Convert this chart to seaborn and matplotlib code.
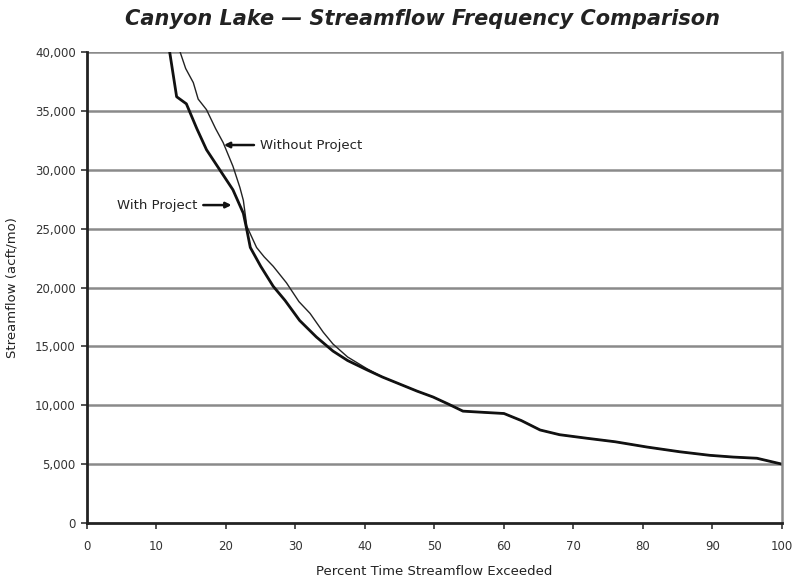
import numpy as np
import pandas as pd
import matplotlib
matplotlib.use("Agg")
import matplotlib.pyplot as plt
import matplotlib.ticker as mticker
import seaborn as sns

# flow duration curves (percent exceeded, acft/mo)
with_pct = [11.9, 12.9, 14.3, 15.8, 17.2, 19.1, 21.0, 22.5, 23.0, 23.5, 25.0, 26.8,
            28.5, 30.6, 33.0, 35.4, 37.5, 40.3, 42.5, 45.0, 47.5, 49.8, 52.0, 54.1,
            57.0, 60.0, 62.5, 65.2, 68.0, 71.9, 76.0, 80.6, 85.3, 89.6, 93.0, 96.4, 100.0]
with_flow = [40000, 36200, 35600, 33500, 31700, 30000, 28300, 26300, 24900, 23400, 21800, 20100,
             18900, 17200, 15800, 14600, 13800, 13000, 12400, 11800, 11200, 10700, 10100, 9500,
             9400, 9300, 8700, 7900, 7500, 7200, 6900, 6450, 6050, 5750, 5600, 5500, 5000]

without_pct = [13.4, 14.2, 15.3, 16.0, 17.2, 18.5, 19.6, 21.0, 22.0, 22.5, 23.0, 24.4,
               25.5, 26.8, 28.7, 30.5, 32.1, 34.0, 35.4, 37.5, 40.3]
without_flow = [40000, 38600, 37400, 36000, 35100, 33500, 32300, 30300, 28500, 27400, 25200, 23400,
                22600, 21800, 20400, 18800, 17800, 16200, 15200, 14100, 13100]
# beyond ~40% both curves coincide
without_pct = without_pct + with_pct[18:]
without_flow = without_flow + with_flow[18:]

x_ticks = list(range(0, 101, 10))
y_ticks = list(range(0, 40001, 5000))

sns.set_style("white")
plt.rcParams["font.family"] = ["DejaVu Sans"]

fig = plt.figure(figsize=(7.95, 5.81), dpi=100)
ax = fig.add_axes([0.1094, 0.0998, 0.8742, 0.8107])

for y in y_ticks[1:]:
    ax.axhline(y, color="#8a8a8a", lw=1.8, zorder=0)

sns.lineplot(x=without_pct, y=without_flow, ax=ax, color="#222222", lw=1.0, sort=False)
sns.lineplot(x=with_pct, y=with_flow, ax=ax, color="#111111", lw=2.0, sort=False)

ax.set_xlim(0, 100)
ax.set_ylim(0, 40000)
ax.set_xticks(x_ticks)
ax.set_yticks(y_ticks)
ax.yaxis.set_major_formatter(mticker.FuncFormatter(lambda v, p: f"{int(v):,}"))
ax.tick_params(axis="both", labelsize=8.5, colors="#333333", length=4, width=1.2,
               direction="out", bottom=True, left=True, pad=4)
ax.tick_params(axis="x", pad=8)

for side in ["left", "bottom"]:
    ax.spines[side].set_color("#222222")
    ax.spines[side].set_linewidth(2.0)
ax.spines["right"].set_color("#8a8a8a")
ax.spines["right"].set_linewidth(1.8)
ax.spines["top"].set_visible(False)

ax.set_xlabel("Percent Time Streamflow Exceeded", fontsize=9.5, color="#222222", labelpad=9)
ax.set_ylabel("Streamflow (acft/mo)", fontsize=9.5, color="#222222", labelpad=12)

ax.annotate("Without Project", xy=(19.7, 32100), xytext=(24.9, 32100),
            fontsize=9.5, va="center", ha="left", color="#222222",
            arrowprops=dict(arrowstyle="-|>", color="#111111", lw=1.8, mutation_scale=8,
                            shrinkA=2, shrinkB=0))
ax.annotate("With Project", xy=(20.8, 27000), xytext=(4.3, 27000),
            fontsize=9.5, va="center", ha="left", color="#222222",
            arrowprops=dict(arrowstyle="-|>", color="#111111", lw=1.8, mutation_scale=8,
                            shrinkA=2, shrinkB=0))

fig.text(0.531, 0.968, "Canyon Lake \u2014 Streamflow Frequency Comparison",
         ha="center", va="center", fontsize=15, fontweight="bold", fontstyle="italic",
         color="#222222")

fig.savefig("out.png", dpi=100)
